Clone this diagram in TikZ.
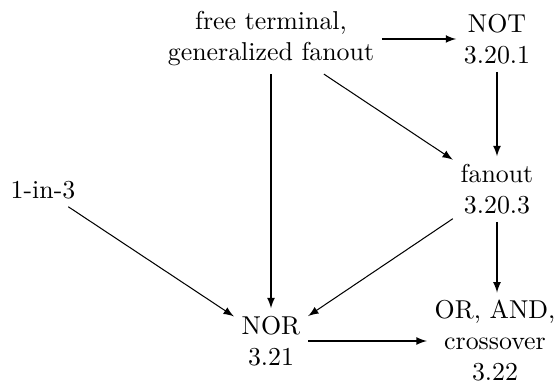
\documentclass[tikz,border=0pt]{standalone}
\usepackage{amsmath,amssymb}
\usetikzlibrary{positioning,arrows}

\begin{document}
\begin{tikzpicture}[x=0.0136cm,y=0.0136cm,>=latex,
		gate/.style={align=center,inner sep=0.1cm}]
		\useasboundingbox (0,0) rectangle (558,383);
		\node[gate] (free) at (271,344) {free terminal,\\generalized fanout};
		\node[gate] (not) at (497,344) {NOT\\3.20.1};
		\node[gate] (fan) at (497,194) {fanout\\3.20.3};
		\node[gate] (onein) at (43,193) {1-in-3};
		\node[gate] (nor) at (271,42) {NOR\\3.21};
		\node[gate] (orand) at (495,42) {OR, AND,\\crossover\\3.22};
		\draw[->] (free) -- (not);
		\draw[->] (not) -- (fan);
		\draw[->] (free) -- (fan);
		\draw[->] (free) -- (nor);
		\draw[->] (onein) -- (nor);
		\draw[->] (fan) -- (nor);
		\draw[->] (fan) -- (orand.north -| fan);
		\draw[->] (nor) -- (orand);
	\end{tikzpicture}
\end{document}
